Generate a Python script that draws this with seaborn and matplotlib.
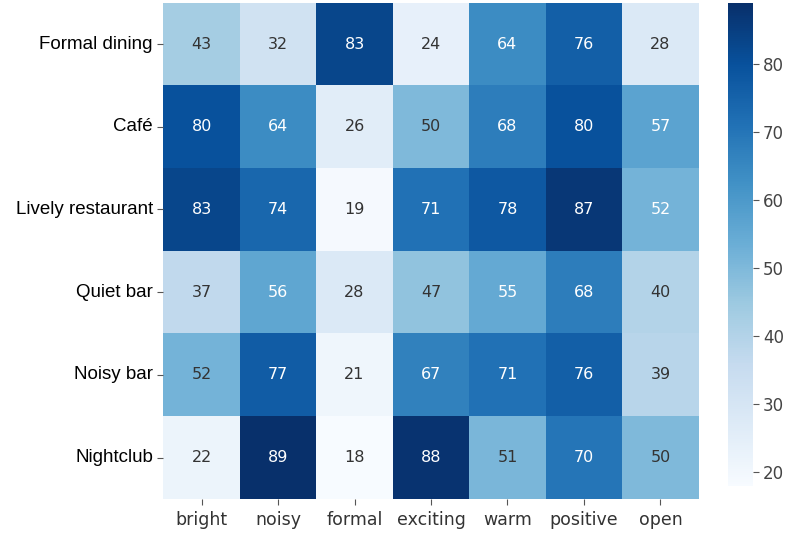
import pandas as pd
import matplotlib.pyplot as plt
import seaborn as sns

venues = ["Formal dining", "Café", "Lively restaurant", "Quiet bar", "Noisy bar", "Nightclub"]
words = ["bright", "noisy", "formal", "exciting", "warm", "positive", "open"]

formal_dining = [43, 32, 83, 24, 64, 76, 28]
cafe = [80, 64, 26, 50, 68, 80, 57]
lively_restaurant = [83, 74, 19, 71, 78, 87, 52]
quiet_bar = [37, 56, 28, 47, 55, 68, 40]
noisy_bar = [52, 77, 21, 67, 71, 76, 39]
nightclub = [22, 89, 18, 88, 51, 70, 50]

df = pd.DataFrame([formal_dining, cafe, lively_restaurant, quiet_bar, noisy_bar, nightclub],
                  index=venues, columns=words)

fig = plt.figure(figsize=(7.93, 5.33), dpi=100)
ax = fig.add_axes([0.206, 0.064, 0.675, 0.931])
cax = fig.add_axes([0.918, 0.088, 0.031, 0.906])

sns.heatmap(df, annot=True, fmt="d", cmap="Blues", ax=ax, cbar_ax=cax,
            annot_kws={"size": 11.5, "color": "#333333"})

# white text on darker cells (the 52 of Lively restaurant is white in the original)
for i, venue in enumerate(venues):
    for j, word in enumerate(words):
        val = df.loc[venue, word]
        if val > 52 or (venue == "Lively restaurant" and word == "open"):
            ax.texts[i * len(words) + j].set_color("white")

ax.tick_params(axis="both", length=4, color="#555555")
ax.tick_params(axis="x", pad=5)
ax.set_yticklabels(ax.get_yticklabels(), rotation=0, fontsize=13.5,
                   family="Liberation Sans", color="black")
ax.set_xticklabels(ax.get_xticklabels(), fontsize=12.5, color="#333333")
cax.tick_params(labelsize=12, labelcolor="#444444", color="#555555", length=4)

plt.savefig("out.png", dpi=100)
